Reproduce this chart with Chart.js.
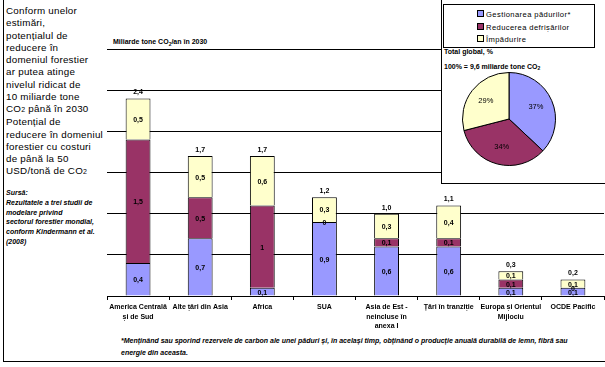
<!DOCTYPE html>
<html>
<head>
<meta charset="utf-8">
<script src="https://cdn.jsdelivr.net/npm/chart.js@4"></script>
<style>
  body { margin: 0; background: #fff; }
  #page { position: relative; width: 605px; height: 367px; overflow: hidden; font-family: "Liberation Sans", Arial, sans-serif; color: #000; }
  .abs { position: absolute; }
  #frame { left: 3px; top: 0; width: 605px; height: 362px; border-left: 1px solid #000; border-bottom: 1px solid #000; box-sizing: border-box; }
  #intro { left: 6px; top: 5px; font-size: 9.8px; line-height: 12.27px; letter-spacing: 0.25px; }
  #source { left: 6px; top: 188px; font-size: 7px; line-height: 9.8px; font-weight: bold; font-style: italic; }
  #unit { left: 113px; top: 38px; font-size: 7px; font-weight: bold; }
  #barWrap { left: 100px; top: 30px; width: 505px; height: 305px; }
  #pieBox { left: 441px; top: 0; width: 164px; height: 184px; background: #fff; border-left: 1px solid #000; border-bottom: 1px solid #000; box-sizing: border-box; }
  #legend { left: 443px; top: 4px; width: 152px; height: 44px; border: 1px solid #000; box-sizing: border-box; font-size: 7.6px; letter-spacing: 0.4px; }
  .lg { position: absolute; left: 33px; height: 10px; line-height: 10px; white-space: nowrap; }
  .sw { display: inline-block; width: 5px; height: 5px; border: 1px solid #000; margin-right: 2px; vertical-align: 0px; }
  #pieTitle { left: 444px; top: 45px; font-size: 7px; line-height: 14.5px; font-weight: bold; }
  #pieTitle sub { font-size: 5px; vertical-align: -1px; line-height: 0; }
  #pieWrap { left: 462px; top: 72px; width: 94px; height: 94px; }
  #foot { left: 121px; top: 335px; font-size: 7px; line-height: 11.5px; font-weight: bold; font-style: italic; width: 480px; }
</style>
</head>
<body>
<div id="page">
  <div id="frame" class="abs"></div>
  <div id="intro" class="abs">Conform unelor<br>estimări,<br>potențialul de<br>reducere în<br>domeniul forestier<br>ar putea atinge<br>nivelul ridicat de<br>10 miliarde tone<br>CO<span style="font-size:7px">2</span> până în 2030<br>Potențial de<br>reducere în domeniul<br>forestier cu costuri<br>de până la 50<br>USD/tonă de CO<span style="font-size:7px">2</span></div>
  <div id="source" class="abs">Sursă:<br>Rezultatele a trei studii de<br>modelare privind<br>sectorul forestier mondial,<br>conform Kindermann et al.<br>(2008)</div>
  <div id="unit" class="abs">Miliarde tone CO<sub style="font-size:5px">2</sub>/an în 2030</div>
  <div id="barWrap" class="abs"><canvas id="barChart"></canvas></div>
  <div id="pieBox" class="abs"></div>
  <div id="legend" class="abs"></div>
  <div id="pieTitle" class="abs">Total global, %<br>100% = 9,6 miliarde tone CO<sub>2</sub></div>
  <div id="pieWrap" class="abs"><canvas id="pieChart"></canvas></div>
  <div id="foot" class="abs">*Menținând sau sporind rezervele de carbon ale unei păduri și, în același timp, obținând o producție anuală durabilă de lemn, fibră sau<br>energie din aceasta.</div>
</div>
<script>
const REGIONS = [
  ['America Centrală', 'și de Sud'],
  'Alte țări din Asia',
  'Africa',
  'SUA',
  ['Asia de Est -', 'neincluse în', 'anexa I'],
  'Țări în tranziție',
  ['Europa și Orientul', 'Mijlociu'],
  'OCDE Pacific',
];
const SERIES_NAMES = ['Gestionarea pădurilor*', 'Reducerea defrișărilor', 'Împădurire'];
const SERIES_COLORS = ['#9999ff', '#993366', '#ffffcc'];
const MANAGEMENT = [0.4, 0.7, 0.1, 0.9, 0.6, 0.6, 0.1, 0.1];
const DEFORESTATION = [1.5, 0.5, 1.0, 0, 0.1, 0.1, 0.1, 0];
const AFFORESTATION = [0.5, 0.5, 0.6, 0.3, 0.3, 0.4, 0.1, 0.1];
const TOTAL_LABELS = ['2,4', '1,7', '1,7', '1,2', '1,0', '1,1', '0,3', '0,2'];
const PIE_SHARES = [37, 34, 29];
const Y_MAX = 3.0;
const Y_STEP = 0.5;

const fmt = v => String(v).replace('.', ',');

// legend (html)
const legendEl = document.getElementById('legend');
legendEl.innerHTML = SERIES_NAMES.map((n, i) =>
  `<div class="lg" style="top:${5 + i * 12.5}px"><span class="sw" style="background:${SERIES_COLORS[i]}"></span>${n}</div>`
).join('');

const barLabels = {
  id: 'barLabels',
  afterDatasetsDraw(chart) {
    const ctx = chart.ctx;
    ctx.save();
    ctx.fillStyle = '#000';
    ctx.font = 'bold 7px "Liberation Sans", Arial, sans-serif';
    ctx.textAlign = 'center';
    ctx.textBaseline = 'middle';
    chart.data.datasets.forEach((ds, di) => {
      chart.getDatasetMeta(di).data.forEach((bar, i) => {
        const { x, y, base } = bar.getProps(['x', 'y', 'base'], true);
        ctx.fillText(fmt(ds.data[i]), x, (y + base) / 2 + 1);
      });
    });
    const last = chart.getDatasetMeta(chart.data.datasets.length - 1);
    last.data.forEach((bar, i) => {
      ctx.fillText(TOTAL_LABELS[i], bar.x, bar.y - 6);
    });
    ctx.restore();
  },
};

new Chart(document.getElementById('barChart'), {
  type: 'bar',
  data: {
    labels: REGIONS,
    datasets: [MANAGEMENT, DEFORESTATION, AFFORESTATION].map((d, i) => ({
      label: SERIES_NAMES[i],
      data: d,
      backgroundColor: SERIES_COLORS[i],
      borderColor: '#000',
      borderWidth: 1,
      barPercentage: 1,
      categoryPercentage: 0.4,
    })),
  },
  options: {
    responsive: true,
    maintainAspectRatio: false,
    animation: false,
    layout: { padding: { left: 7, top: 19, right: 1, bottom: 0 } },
    plugins: { legend: { display: false }, tooltip: { enabled: false } },
    scales: {
      x: {
        stacked: true,
        afterFit: s => { s.height = 39; },
        grid: { offset: true, drawOnChartArea: false, tickLength: 4, color: '#000' },
        border: { color: '#000' },
        ticks: { color: '#000', maxRotation: 0, autoSkip: false, padding: 2, font: { size: 7, weight: 'bold', family: '"Liberation Sans", Arial', lineHeight: 1.4 } },
      },
      y: {
        stacked: true,
        min: 0,
        max: Y_MAX,
        afterFit: s => { s.width = 0; },
        ticks: { display: false, stepSize: Y_STEP },
        border: { display: false },
        grid: { color: '#000', drawTicks: false },
      },
    },
  },
  plugins: [barLabels],
});

const pieLabels = {
  id: 'pieLabels',
  afterDatasetsDraw(chart) {
    const ctx = chart.ctx;
    ctx.save();
    ctx.fillStyle = '#000';
    ctx.font = '7.5px "Liberation Sans", Arial, sans-serif';
    ctx.textAlign = 'center';
    ctx.textBaseline = 'middle';
    chart.getDatasetMeta(0).data.forEach((arc, i) => {
      const { x, y, startAngle, endAngle, outerRadius } = arc.getProps(['x', 'y', 'startAngle', 'endAngle', 'outerRadius'], true);
      const mid = (startAngle + endAngle) / 2;
      const r = outerRadius * 0.63;
      ctx.fillText(PIE_SHARES[i] + '%', x + Math.cos(mid) * r, y + Math.sin(mid) * r);
    });
    ctx.restore();
  },
};

new Chart(document.getElementById('pieChart'), {
  type: 'pie',
  data: {
    labels: SERIES_NAMES,
    datasets: [{ data: PIE_SHARES, backgroundColor: SERIES_COLORS, borderColor: '#000', borderWidth: 1 }],
  },
  options: {
    responsive: true,
    maintainAspectRatio: false,
    animation: false,
    layout: { padding: 0 },
    plugins: { legend: { display: false }, tooltip: { enabled: false } },
  },
  plugins: [pieLabels],
});
</script>
</body>
</html>
